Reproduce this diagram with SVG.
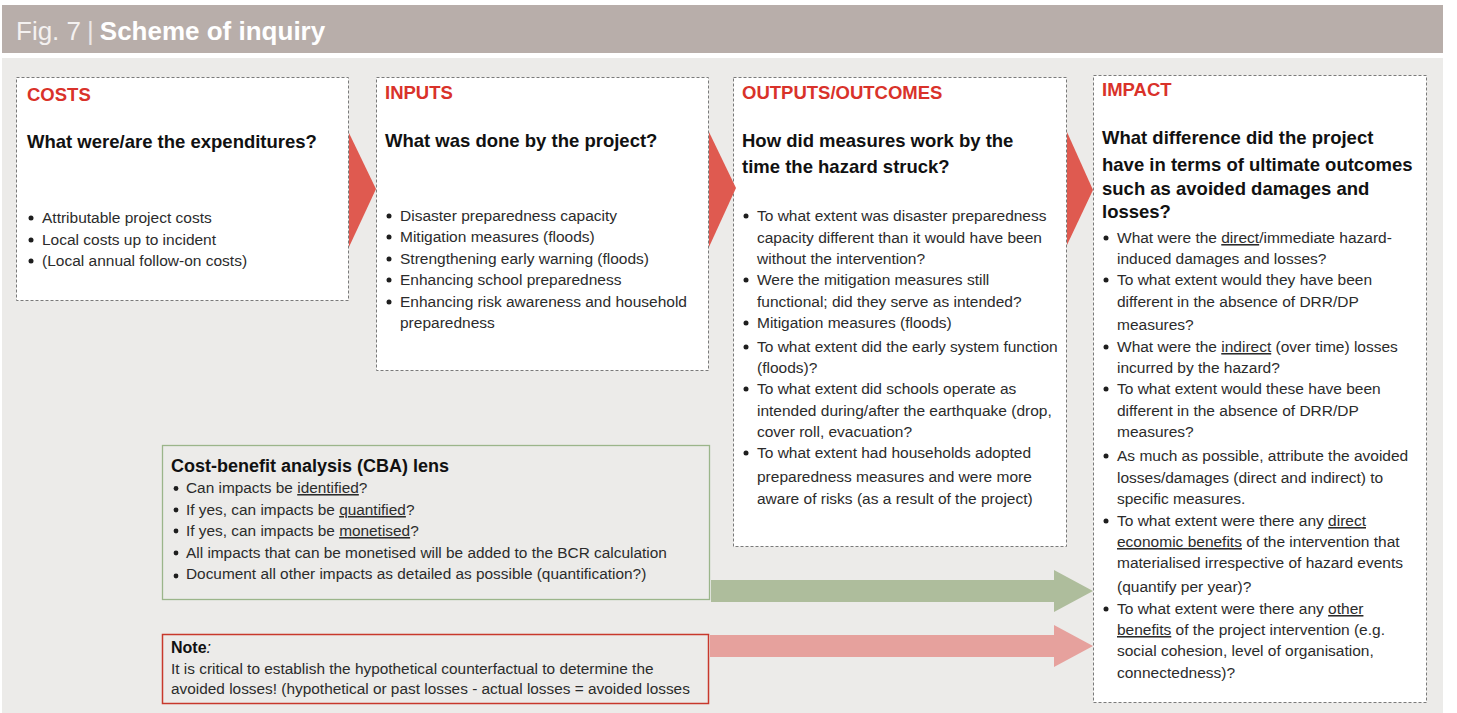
<svg xmlns="http://www.w3.org/2000/svg" width="1457" height="713" viewBox="0 0 1457 713">
<style>
text{font-family:"Liberation Sans",Arial,Helvetica,sans-serif}
.lbl{font-size:18.5px;font-weight:bold;fill:#d9322a}
.hd{font-size:18.5px;font-weight:bold;fill:#111}
.tx{font-size:15.5px;fill:#2b2b2b}
.sm{font-size:15.4px;fill:#2b2b2b}
.box{fill:#fff;stroke:#7a7a7a;stroke-width:1;stroke-dasharray:3 2}
.tri{fill:#df5a50}
.u{text-decoration:underline}
.b{fill:#1e1e1e}
</style>
<rect x="0" y="0" width="1457" height="713" fill="#fff"/>
<g id="title">
<rect x="2" y="5" width="1441" height="48" fill="#b8aeaa"/>
<text x="16" y="40" font-size="26" fill="#f4f1f0"><tspan font-weight="300">Fig. 7</tspan><tspan dx="6" fill="#ece7e5">|</tspan><tspan dx="6" font-weight="bold" fill="#fff">Scheme of inquiry</tspan></text>
</g>
<rect id="panel" x="2" y="58" width="1441" height="655" fill="#ecebe9"/>
<g id="costs">
<rect class="box" x="16.5" y="77.5" width="332" height="223"/>
<text class="lbl" x="27" y="101">COSTS</text>
<text class="hd" x="27" y="148">What were/are the expenditures?</text>
<circle class="b" cx="31" cy="218" r="2.5"/><text class="tx" x="42" y="223">Attributable project costs</text>
<circle class="b" cx="31" cy="240" r="2.5"/><text class="tx" x="42" y="245">Local costs up to incident</text>
<circle class="b" cx="31" cy="261" r="2.5"/><text class="tx" x="42" y="266">(Local annual follow-on costs)</text>
</g>
<g id="inputs">
<rect class="box" x="376.5" y="77.5" width="332" height="293"/>
<text class="lbl" x="385" y="99">INPUTS</text>
<text class="hd" x="385" y="147">What was done by the project?</text>
<circle class="b" cx="389" cy="216" r="2.5"/><text class="tx" x="400" y="221">Disaster preparedness capacity</text>
<circle class="b" cx="389" cy="237" r="2.5"/><text class="tx" x="400" y="242">Mitigation measures (floods)</text>
<circle class="b" cx="389" cy="259" r="2.5"/><text class="tx" x="400" y="264">Strengthening early warning (floods)</text>
<circle class="b" cx="389" cy="280" r="2.5"/><text class="tx" x="400" y="285">Enhancing school preparedness</text>
<circle class="b" cx="389" cy="302" r="2.5"/><text class="tx" x="400" y="307">Enhancing risk awareness and household</text>
<text class="tx" x="400" y="328">preparedness</text>
</g>
<g id="outputs">
<rect class="box" x="733.5" y="77.5" width="333" height="469"/>
<text class="lbl" x="742" y="99">OUTPUTS/OUTCOMES</text>
<text class="hd" x="742" y="147">How did measures work by the</text>
<text class="hd" x="742" y="173">time the hazard struck?</text>
<circle class="b" cx="746" cy="216" r="2.5"/><text class="tx" x="757" y="221">To what extent was disaster preparedness</text>
<text class="tx" x="757" y="243">capacity different than it would have been</text>
<text class="tx" x="757" y="264">without the intervention?</text>
<circle class="b" cx="746" cy="280" r="2.5"/><text class="tx" x="757" y="285">Were the mitigation measures still</text>
<text class="tx" x="757" y="307">functional; did they serve as intended?</text>
<circle class="b" cx="746" cy="323" r="2.5"/><text class="tx" x="757" y="328">Mitigation measures (floods)</text>
<circle class="b" cx="746" cy="347" r="2.5"/><text class="tx" x="757" y="352">To what extent did the early system function</text>
<text class="tx" x="757" y="373">(floods)?</text>
<circle class="b" cx="746" cy="389" r="2.5"/><text class="tx" x="757" y="394">To what extent did schools operate as</text>
<text class="tx" x="757" y="416">intended during/after the earthquake (drop,</text>
<text class="tx" x="757" y="437">cover roll, evacuation?</text>
<circle class="b" cx="746" cy="453" r="2.5"/><text class="tx" x="757" y="458">To what extent had households adopted</text>
<text class="tx" x="757" y="482">preparedness measures and were more</text>
<text class="tx" x="757" y="504">aware of risks (as a result of the project)</text>
</g>
<g id="impact">
<rect class="box" x="1093.5" y="75.5" width="333" height="627"/>
<text class="lbl" x="1102" y="96">IMPACT</text>
<text class="hd" x="1102" y="144">What difference did the project</text>
<text class="hd" x="1102" y="171">have in terms of ultimate outcomes</text>
<text class="hd" x="1102" y="195">such as avoided damages and</text>
<text class="hd" x="1102" y="218">losses?</text>
<circle class="b" cx="1106" cy="238" r="2.5"/><text class="tx" x="1117" y="243">What were the <tspan class="u">direct</tspan>/immediate hazard-</text>
<text class="tx" x="1117" y="264">induced damages and losses?</text>
<circle class="b" cx="1106" cy="280" r="2.5"/><text class="tx" x="1117" y="285">To what extent would they have been</text>
<text class="tx" x="1117" y="307">different in the absence of DRR/DP</text>
<text class="tx" x="1117" y="330">measures?</text>
<circle class="b" cx="1106" cy="347" r="2.5"/><text class="tx" x="1117" y="352">What were the <tspan class="u">indirect</tspan> (over time) losses</text>
<text class="tx" x="1117" y="373">incurred by the hazard?</text>
<circle class="b" cx="1106" cy="389" r="2.5"/><text class="tx" x="1117" y="394">To what extent would these have been</text>
<text class="tx" x="1117" y="416">different in the absence of DRR/DP</text>
<text class="tx" x="1117" y="437">measures?</text>
<circle class="b" cx="1106" cy="456" r="2.5"/><text class="tx" x="1117" y="461">As much as possible, attribute the avoided</text>
<text class="tx" x="1117" y="483">losses/damages (direct and indirect) to</text>
<text class="tx" x="1117" y="504">specific measures.</text>
<circle class="b" cx="1106" cy="521" r="2.5"/><text class="tx" x="1117" y="526">To what extent were there any <tspan class="u">direct</tspan></text>
<text class="tx" x="1117" y="547"><tspan class="u">economic benefits</tspan> of the intervention that</text>
<text class="tx" x="1117" y="568">materialised irrespective of hazard events</text>
<text class="tx" x="1117" y="592">(quantify per year)?</text>
<circle class="b" cx="1106" cy="609" r="2.5"/><text class="tx" x="1117" y="614">To what extent were there any <tspan class="u">other</tspan></text>
<text class="tx" x="1117" y="635"><tspan class="u">benefits</tspan> of the project intervention (e.g.</text>
<text class="tx" x="1117" y="656">social cohesion, level of organisation,</text>
<text class="tx" x="1117" y="678">connectedness)?</text>
</g>
<g id="cba">
<rect x="162.5" y="445.5" width="547" height="154" fill="#ecebe9" stroke="#9bb58a" stroke-width="1.3"/>
<text x="171" y="472" font-size="18" font-weight="bold" fill="#111">Cost-benefit analysis (CBA) lens</text>
<circle class="b" cx="176" cy="488.5" r="2.4"/><text class="sm" x="186" y="493">Can impacts be <tspan class="u">identified</tspan>?</text>
<circle class="b" cx="176" cy="510" r="2.4"/><text class="sm" x="186" y="515">If yes, can impacts be <tspan class="u">quantified</tspan>?</text>
<circle class="b" cx="176" cy="531" r="2.4"/><text class="sm" x="186" y="536">If yes, can impacts be <tspan class="u">monetised</tspan>?</text>
<circle class="b" cx="176" cy="553" r="2.4"/><text class="sm" x="186" y="558">All impacts that can be monetised will be added to the BCR calculation</text>
<circle class="b" cx="176" cy="576" r="2.4"/><text class="sm" x="186" y="579">Document all other impacts as detailed as possible (quantification?)</text>
</g>
<g id="note">
<rect x="162.5" y="634.5" width="546" height="69" fill="#ecebe9" stroke="#c8382c" stroke-width="1.5"/>
<text x="171" y="653" font-size="16" fill="#111"><tspan font-weight="bold">Note</tspan><tspan font-style="italic">:</tspan></text>
<text class="sm" x="171" y="674">It is critical to establish the hypothetical counterfactual to determine the</text>
<text class="sm" x="171" y="694">avoided losses! (hypothetical or past losses - actual losses = avoided losses</text>
</g>
<g id="connectors">
<polygon class="tri" points="349,133 376,189 349,247"/>
<polygon class="tri" points="709,132 736,188 709,247"/>
<polygon class="tri" points="1067,132 1093,190 1067,245"/>
<polygon fill="#aebd9c" points="711,580 1054,580 1054,570 1093,591 1054,612 1054,602 711,602"/>
<polygon fill="#e6a19d" points="710,635 1054,635 1054,625 1093,646 1054,667 1054,657 710,657"/>
</g>
</svg>
